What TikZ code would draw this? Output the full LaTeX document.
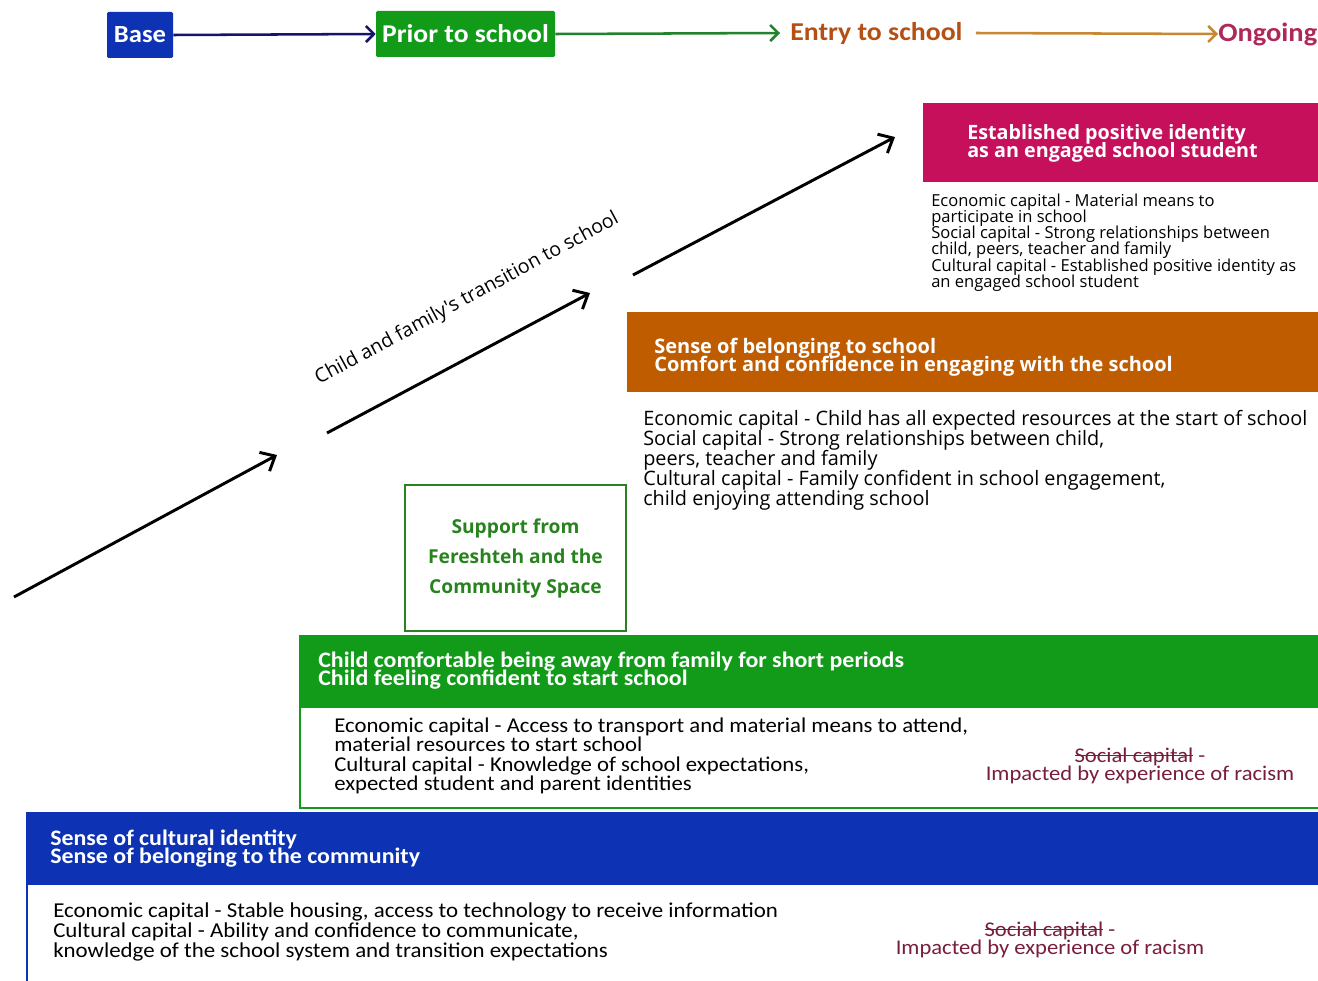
\documentclass[tikz,border=0pt]{standalone}
\usepackage{fontspec}
\setmainfont{Carlito}[FakeStretch=1.08]
\newfontfamily\segoe{Open Sans}
\usetikzlibrary{arrows.meta}
\newsavebox\strikebox
\newcommand\strikeout[1]{\sbox\strikebox{#1}\makebox[0pt][l]{\usebox\strikebox}\rule[0.3em]{\wd\strikebox}{0.06em}}
\newcommand\tight{\lineskiplimit=-100pt\lineskip=0pt\relax}
\definecolor{baseblue}{RGB}{13,51,180}
\definecolor{priorgreen}{RGB}{17,155,25}
\definecolor{entryorange}{RGB}{192,92,0}
\definecolor{ongoingpink}{RGB}{198,16,92}
\definecolor{navyline}{RGB}{20,20,110}
\definecolor{greenline}{RGB}{35,130,45}
\definecolor{goldline}{RGB}{200,135,50}
\definecolor{entrytext}{RGB}{180,80,20}
\definecolor{ongoingtext}{RGB}{175,40,90}
\definecolor{supportgreen}{RGB}{40,130,30}
\definecolor{racismred}{RGB}{120,30,60}
\begin{document}
\begin{tikzpicture}[x=0.75pt, y=-0.75pt, >={Straight Barb[length=6pt,width=12pt]},
    stage/.style={text=white, font=\bfseries\fontsize{19.2}{19.2}\selectfont, inner sep=0, rounded corners=1pt, minimum height=34.5pt},
    head/.style={anchor=west, align=left, inner sep=0, text=white, font=\bfseries\fontsize{16.6}{13.5}\selectfont\tight},
    body/.style={anchor=west, align=left, inner sep=0, font=\fontsize{15.8}{14.5}\selectfont\tight},
    racism/.style={align=center, inner sep=0, text=racismred, font=\fontsize{15.7}{13.5}\selectfont\tight}]
    \useasboundingbox (0,0) rectangle (1318,981);
    % timeline
    \node[stage, fill=baseblue, minimum width=49.5pt, font=\bfseries\fontsize{18.5}{18.5}\selectfont] (base) at (140,35) {Base};
    \node[stage, fill=priorgreen, minimum width=134.25pt] (prior) at (465.5,34) {Prior to school};
    \node[anchor=west, inner sep=0, text=entrytext, font=\bfseries\fontsize{19.3}{19.3}\selectfont] (entry) at (790,33) {Entry to school};
    \node[anchor=west, inner sep=0, text=ongoingtext, font=\bfseries\fontsize{19.8}{19.8}\selectfont] (ongoing) at (1218,34) {Ongoing};
    \draw[->, navyline, line width=1.9pt] (base.east) -- (prior.west);
    \draw[->, greenline, line width=1.9pt] (prior.east) -- ([xshift=-7.5pt]entry.west);
    \draw[->, goldline, line width=1.9pt] ([xshift=9.75pt]entry.east) -- (ongoing.west);

    % rising arrows
    \coordinate (a0) at (14,597);  \coordinate (a1) at (277,455);
    \coordinate (b0) at (327,433); \coordinate (b1) at (590,293);
    \coordinate (c0) at (633,275); \coordinate (c1) at (895,137);
    \draw[->, line width=2.2pt, >={Straight Barb[length=9pt,width=16pt]}] (a0) -- (a1);
    \draw[->, line width=2.2pt, >={Straight Barb[length=9pt,width=16pt]}] (b0) -- (b1);
    \draw[->, line width=2.2pt, >={Straight Barb[length=9pt,width=16pt]}] (c0) -- (c1);
    \node[rotate=28.4, inner sep=0, font=\segoe\fontsize{14.7}{14.7}\selectfont] (transition) at (467,299) {Child and family's transition to school};

    % ongoing
    \fill[ongoingpink] (923,103) rectangle (1318,182);
    \node[head, font=\segoe\bfseries\fontsize{14.8}{13.5}\selectfont\tight] (identity) at (967,143) {Established positive identity\\as an engaged school student};
    \node[body, font=\segoe\fontsize{12.4}{12.2}\selectfont\tight] (ongoingcap) at (931,242.5) {Economic capital - Material means to\\participate in school\\Social capital - Strong relationships between\\child, peers, teacher and family\\Cultural capital - Established positive identity as\\an engaged school student};

    % entry to school
    \fill[entryorange] (627,312) rectangle (1318,392);
    \node[head, font=\segoe\bfseries\fontsize{15}{13.5}\selectfont\tight] (belonging) at (654,357) {Sense of belonging to school\\Comfort and confidence in engaging with the school};
    \node[body, font=\segoe\fontsize{14.9}{15}\selectfont\tight] (entrycap) at (643,460) {Economic capital - Child has all expected resources at the start of school\\Social capital - Strong relationships between child,\\peers, teacher and family\\Cultural capital - Family confident in school engagement,\\child enjoying attending school};

    % support
    \node[draw=supportgreen, line width=1.6pt, minimum width=165.75pt, minimum height=109.5pt, align=center, text=supportgreen, font=\segoe\bfseries\fontsize{14.4}{22.5}\selectfont] (support) at (515.5,558) {Support from\\Fereshteh and the\\Community Space};

    % prior to school
    \fill[priorgreen] (300,635) rectangle (1318,708);
    \draw[priorgreen, line width=2.2pt] (300,635) -- (300,808) -- (1318,808);
    \node[head] (comfortable) at (318,671) {Child comfortable being away from family for short periods\\Child feeling confident to start school};
    \node[body] (priorcap) at (334,756) {Economic capital - Access to transport and material means to attend,\\material resources to start school\\Cultural capital - Knowledge of school expectations,\\expected student and parent identities};
    \node[racism] (priorsocial) at (1140,766) {\strikeout{Social capital} -\\Impacted by experience of racism};

    % base
    \fill[baseblue] (27,812) rectangle (1318,885);
    \draw[baseblue, line width=2.2pt] (27,812) -- (27,981);
    \node[head] (cultural) at (50,849) {Sense of cultural identity\\Sense of belonging to the community};
    \node[body, font=\fontsize{15.9}{15}\selectfont\tight] (basecap) at (53,932) {Economic capital - Stable housing, access to technology to receive information\\Cultural capital - Ability and confidence to communicate,\\knowledge of the school system and transition expectations};
    \node[racism] (basesocial) at (1050,940) {\strikeout{Social capital} -\\Impacted by experience of racism};
\end{tikzpicture}
\end{document}
